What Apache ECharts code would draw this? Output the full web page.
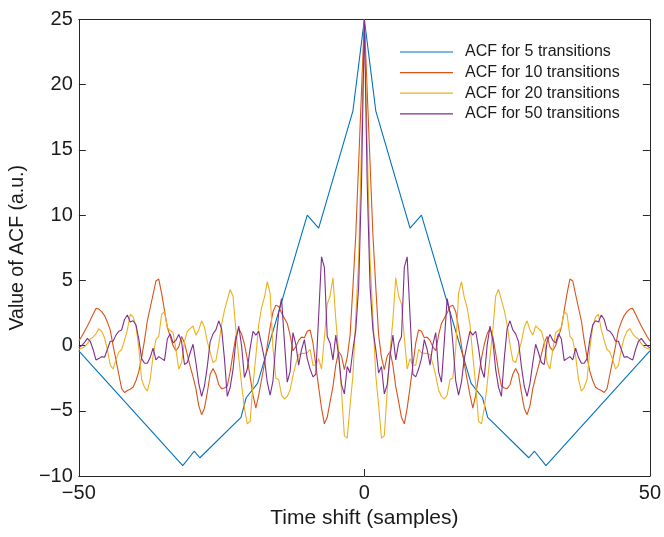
<!DOCTYPE html>
<html>
<head>
<meta charset="utf-8">
<script src="https://cdn.jsdelivr.net/npm/echarts@6/dist/echarts.min.js"></script>
<style>
html,body{margin:0;padding:0;background:#fff;}
#chart{width:664px;height:537px;}
</style>
</head>
<body>
<div id="chart"></div>
<script>
// ---- data ----
const seriesNames = ['ACF for 5 transitions', 'ACF for 10 transitions', 'ACF for 20 transitions', 'ACF for 50 transitions'];

// ACF for 5 transitions: break points (time shift, value)
const acf5Shift = [-50, -31.8, -29.8, -28.8, -21.6, -20.7, -18.7, -10, -8, -2, 0, 2, 8, 10, 18.7, 20.7, 21.6, 28.8, 29.8, 31.8, 50];
const acf5Value = [-0.4, -9.2, -8.1, -8.6, -5.5, -4.0, -2.9, 10, 9, 18, 25, 18, 9, 10, -2.9, -4.0, -5.5, -8.6, -8.1, -9.2, -0.4];

// sampled series, time shift -50 ... 50 in steps of 0.5
const shiftStart = -50, shiftStep = 0.5;

// time shift -50 ... -0.5
const acf10Neg = [0.35,
 0.7, 1.1, 1.5, 1.95, 2.4, 2.85, 2.8, 2.6, 2.3, 1.8,
 1.2, 0.0, -1.1, -2.2, -3.3, -3.6, -3.45, -3.35, -3.2, -2.7,
 -2.0, -0.9, 0.4, 1.9, 2.9, 3.9, 4.95, 5.1, 4.0, 2.7,
 1.4, 0.7, 0.0, -0.4, -0.1, 0.7, 0.2, -0.7, -1.6, -2.4,
 -3.3, -4.6, -5.3, -4.8, -3.6, -2.2, -1.75, -2.2, -3.0, -3.3,
 -3.25, -3.1, -2.0, -0.6, 0.7, 1.3, 0.9, 0.1, -1.0, -2.4,
 -3.8, -4.8, -3.8, -2.6, -1.4, 0.0, 1.4, 2.6, 3.1, 3.0,
 2.5, 2.1, 1.7, 0.8, -0.4, -0.1, 0.4, 0.65, 0.6, 1.1,
 1.2, 0.2, -1.5, -3.2, -4.8, -6.0, -5.5, -4.3, -3.15, -1.5,
 -0.45, -0.8, -1.85, -0.9, 0.8, 4.5, 8.5, 14, 19.5];
// time shift 0 ... 50
const acf10Pos = [25, 19.5, 14, 8.5, 4.5, 0.8, -0.9, -1.85, -0.8, -0.45,
 -1.5, -3.15, -4.3, -5.5, -6.0, -4.8, -3.2, -1.5, 0.2, 1.2,
 1.1, 0.6, 0.65, 0.4, -0.1, -0.4, 0.8, 1.7, 2.1, 2.5,
 3.0, 3.1, 2.6, 1.4, 0.0, -1.4, -2.6, -3.8, -4.8, -3.8,
 -2.4, -1.0, 0.1, 0.9, 1.3, 0.7, -0.6, -2.0, -3.1, -3.25,
 -3.3, -3.0, -2.2, -1.75, -2.2, -3.6, -4.8, -5.3, -4.6, -3.3,
 -2.4, -1.6, -0.7, 0.2, 0.7, -0.1, -0.4, 0.0, 0.7, 1.4,
 2.7, 4.0, 5.1, 4.95, 3.9, 2.9, 1.9, 0.4, -0.9, -2.0,
 -2.7, -3.2, -3.35, -3.45, -3.6, -3.3, -2.2, -1.1, 0.0, 1.2,
 1.8, 2.3, 2.6, 2.8, 2.85, 2.4, 1.95, 1.5, 1.1, 0.7,
 0.35];

const acf20Neg = [-0.3,
 -0.2, -0.1, 0.15, 0.5, 0.65, 0.9, 1.3, 1.1, 0.6, -0.3,
 -1.5, -1.8, -1.1, -0.5, -0.3, 0.4, 1.2, 2.4, 2.2, 1.5,
 -0.2, -2.6, -3.2, -3.5, -2.6, -0.8, 0.45, 0.7, 2.4, 2.6,
 1.4, 1.15, 1.0, -0.3, -1.8, -1.3, 0.3, 1.1, 1.3, 1.5,
 0.8, 1.2, 1.9, 1.4, 0.3, -0.5, -1.3, -1.15, 0.1, 1.6,
 2.7, 3.5, 4.3, 3.8, 1.2, -0.9, -3.0, -4.8, -6.0, -5.8,
 -3.0, -0.8, 1.6, 2.9, 3.7, 4.9, 4.0, -0.2, -2.5, -2.6,
 -3.8, -4.1, -3.9, -3.4, -2.3, -1.4, -0.7, -0.6, -0.6, -0.55,
 -0.3, -1.5, -1.5, -1.0, -1.8, 0.6, 3.2, 3.8, 5.2, 2.0,
 -0.5, -3.5, -6.9, -7.1, -4.6, -2.3, 2.2, 6.6, 15.5];
const acf20Pos = [25, 15.5, 6.6, 2.2, -2.3, -4.6, -7.1, -6.9, -3.5, -0.5,
 2.0, 5.2, 3.8, 3.2, 0.6, -1.8, -1.0, -1.5, -1.5, -0.3,
 -0.55, -0.6, -0.6, -0.7, -1.4, -2.3, -3.4, -3.9, -4.1, -3.8,
 -2.6, -2.5, -0.2, 4.0, 4.9, 3.7, 2.9, 1.6, -0.8, -3.0,
 -5.8, -6.0, -4.8, -3.0, -0.9, 1.2, 3.8, 4.3, 3.5, 2.7,
 1.6, 0.1, -1.15, -1.3, -0.5, 0.3, 1.4, 1.9, 1.2, 0.8,
 1.5, 1.3, 1.1, 0.3, -1.3, -1.8, -0.3, 1.0, 1.15, 1.4,
 2.6, 2.4, 0.7, 0.45, -0.8, -2.6, -3.5, -3.2, -2.6, -0.2,
 1.5, 2.2, 2.4, 1.2, 0.4, -0.3, -0.5, -1.1, -1.8, -1.5,
 -0.3, 0.6, 1.1, 1.3, 0.9, 0.65, 0.5, 0.15, -0.1, -0.2,
 -0.3];

const acf50Neg = [-0.18,
 0.0, 0.25, 0.55, 0.33, -0.3, -1.1, -1.0, -0.85, -0.9, -0.3,
 0.33, 0.33, 0.8, 1.1, 1.2, 2.0, 2.35, 1.8, 1.9, 1.6,
 0.5, -1.0, -1.35, -1.35, -0.9, -0.2, -1.1, -0.85, -1.0, -1.15,
 0.5, 0.9, 0.2, 0.4, 0.85, 0.3, -1.45, -1.3, -0.55, 0.1,
 -1.3, -2.9, -3.9, -3.1, -1.6, 0.3, 0.9, 1.2, 1.9, 1.3,
 -1.0, -3.9, -3.2, -1.85, 0.4, 1.5, 0.0, -2.45, -1.8, -0.2,
 1.1, 0.8, 1.1, 0.1, -1.0, -2.8, -3.8, -2.7, 0.2, 2.5,
 3.6, 0.3, -2.8, -2.0, 1.0, 0.1, -1.5, -0.3, 0.45, -1.0,
 -1.8, -2.4, -2.2, 2.3, 6.8, 6.0, 0.7, 0.2, -1.1, 0.8,
 -0.8, -3.0, -3.7, -1.6, -2.1, -0.3, 1.2, 4.5, 12.4];
const acf50Pos = [25, 12.4, 4.5, 1.2, -0.3, -2.1, -1.6, -3.7, -3.0, -0.8,
 0.8, -1.1, 0.2, 0.7, 6.0, 6.8, 2.3, -2.2, -2.4, -1.8,
 -1.0, 0.45, -0.3, -1.5, 0.1, 1.0, -2.0, -2.8, 0.3, 3.6,
 2.5, 0.2, -2.7, -3.8, -2.8, -1.0, 0.1, 1.1, 0.8, 1.1,
 -0.2, -1.8, -2.45, 0.0, 1.5, 0.4, -1.85, -3.2, -3.9, -1.0,
 1.3, 1.9, 1.2, 0.9, 0.3, -1.6, -3.1, -3.9, -2.9, -1.3,
 0.1, -0.55, -1.3, -1.45, 0.3, 0.85, 0.4, 0.2, 0.9, 0.5,
 -1.15, -1.0, -0.85, -1.1, -0.2, -0.9, -1.35, -1.35, -1.0, 0.5,
 1.6, 1.9, 1.8, 2.35, 2.0, 1.2, 1.1, 0.8, 0.33, 0.33,
 -0.3, -0.9, -0.85, -1.0, -1.1, -0.3, 0.33, 0.55, 0.25, 0.0,
 -0.18];

// ---- build series ----
function pairs(values) {
  return values.map((v, i) => [shiftStart + i * shiftStep, v]);
}
const acf5 = acf5Shift.map((x, i) => [x, acf5Value[i]]);
const acf10 = pairs(acf10Neg.concat(acf10Pos));
const acf20 = pairs(acf20Neg.concat(acf20Pos));
const acf50 = pairs(acf50Neg.concat(acf50Pos));

const colors = ['#0072BD', '#D95319', '#EDB120', '#7E2F8E'];
const axisColor = '#262626';
const font = 'Liberation Sans, Arial, Helvetica, sans-serif';
const minusFmt = v => String(v).replace('-', '\u2212');

const chart = echarts.init(document.getElementById('chart'), null, {renderer: 'canvas'});

function lineSeries(name, data, color) {
  return {
    name: name, type: 'line', data: data, showSymbol: false, symbol: 'none',
    lineStyle: {color: color, width: 1.1}, itemStyle: {color: color},
    xAxisIndex: 0, yAxisIndex: 0, animation: false, silent: true
  };
}

chart.setOption({
  animation: false,
  backgroundColor: '#fff',
  color: colors,
  grid: {left: 76, right: 9, top: 19.5, bottom: 61, containLabel: false},
  legend: {
    orient: 'vertical', left: 395, top: 38,
    icon: 'rect', itemWidth: 53, itemHeight: 1.2, itemGap: 2.6,
    textStyle: {fontFamily: font, fontSize: 16, color: '#1a1a1a', lineHeight: 18, padding: [0, 0, 0, 7]},
    data: seriesNames
  },
  xAxis: [{
    type: 'value', min: -50, max: 50, interval: 50, position: 'bottom',
    name: 'Time shift (samples)', nameLocation: 'middle', nameGap: 31,
    nameTextStyle: {fontFamily: font, fontSize: 21, color: '#1a1a1a'},
    axisLine: {show: true, onZero: false, lineStyle: {color: axisColor, width: 1}},
    axisTick: {show: true, inside: true, length: 7, lineStyle: {color: axisColor}},
    axisLabel: {fontFamily: font, fontSize: 20, color: '#1a1a1a', margin: 7, formatter: minusFmt},
    splitLine: {show: false}
  }, {
    type: 'value', min: -50, max: 50, interval: 50, position: 'top',
    axisLine: {show: true, onZero: false, lineStyle: {color: axisColor, width: 1}},
    axisTick: {show: true, inside: true, length: 7, lineStyle: {color: axisColor}},
    axisLabel: {show: false}, splitLine: {show: false}
  }],
  yAxis: [{
    type: 'value', min: -10, max: 25, interval: 5, position: 'left',
    name: 'Value of ACF (a.u.)', nameLocation: 'middle', nameGap: 41, nameRotate: 90,
    nameTextStyle: {fontFamily: font, fontSize: 19.5, color: '#1a1a1a'},
    axisLine: {show: true, onZero: false, lineStyle: {color: axisColor, width: 1}},
    axisTick: {show: true, inside: true, length: 7, lineStyle: {color: axisColor}},
    axisLabel: {fontFamily: font, fontSize: 20, color: '#1a1a1a', margin: 6, formatter: minusFmt},
    splitLine: {show: false}
  }, {
    type: 'value', min: -10, max: 25, interval: 5, position: 'right',
    axisLine: {show: true, onZero: false, lineStyle: {color: axisColor, width: 1}},
    axisTick: {show: true, inside: true, length: 7, lineStyle: {color: axisColor}},
    axisLabel: {show: false}, splitLine: {show: false}
  }],
  series: [
    lineSeries(seriesNames[0], acf5, colors[0]),
    lineSeries(seriesNames[1], acf10, colors[1]),
    lineSeries(seriesNames[2], acf20, colors[2]),
    lineSeries(seriesNames[3], acf50, colors[3])
  ]
});
</script>
</body>
</html>
